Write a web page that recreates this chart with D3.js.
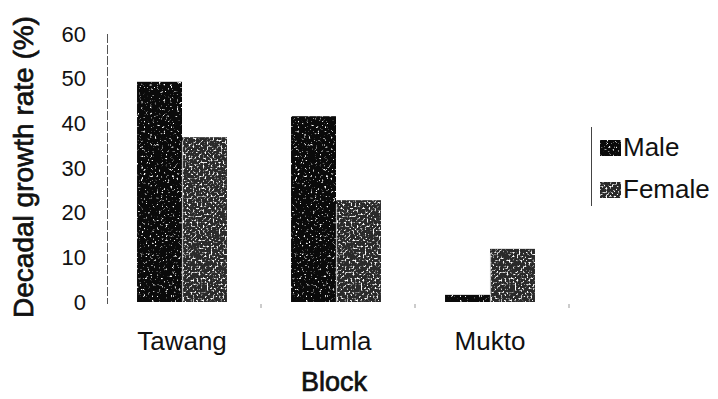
<!DOCTYPE html>
<html>
<head>
<meta charset="utf-8">
<script src="https://cdn.jsdelivr.net/npm/d3@7"></script>
<style>
  html, body { margin: 0; padding: 0; background: #fff; }
  svg { display: block; font-family: "Liberation Sans", Arial, sans-serif; }
</style>
</head>
<body>
<svg id="chart" width="718" height="399"></svg>
<script>
// Decadal growth rate by block, male vs female
const blocks = ["Tawang", "Lumla", "Mukto"];
const seriesNames = ["Male", "Female"];
const maleValues = [49.3, 41.6, 1.6];
const femaleValues = [36.9, 22.8, 11.9];
const yTicks = [0, 10, 20, 30, 40, 50, 60];

const svg = d3.select("#chart");

// speckled textures for the bar fills
const defs = svg.append("defs");
function speckle(id, freq, slope, offset, seed) {
  const f = defs.append("filter").attr("id", id)
    .attr("x", 0).attr("y", 0).attr("width", 1).attr("height", 1)
    .attr("filterUnits", "objectBoundingBox");
  f.append("feTurbulence").attr("type", "fractalNoise")
    .attr("baseFrequency", freq).attr("numOctaves", 3).attr("seed", seed).attr("result", "n");
  f.append("feColorMatrix").attr("in", "n").attr("type", "matrix")
    .attr("values", `0 0 0 0 1  0 0 0 0 1  0 0 0 0 1  ${slope} 0 0 0 ${offset}`).attr("result", "s");
  f.append("feComposite").attr("in", "s").attr("in2", "SourceAlpha").attr("operator", "in");
}
speckle("speckMale", 0.45, 6, -3.75, 4);
speckle("speckFemale", 0.5, 5, -2.6, 9);

const x0 = d3.scaleBand().domain(blocks).range([105, 567])
  .paddingInner(0.416).paddingOuter(0.208);
const x1 = d3.scaleBand().domain(seriesNames).range([0, x0.bandwidth()]);
const y = d3.scaleLinear().domain([0, 60]).range([302, 34]);

const baseFill = { Male: "#0a0a0a", Female: "#2a2a2a" };
const speck = { Male: "url(#speckMale)", Female: "url(#speckFemale)" };

const rows = blocks.map((b, i) => ({ block: b, values: [
  { key: "Male", value: maleValues[i] },
  { key: "Female", value: femaleValues[i] }
]}));

const groups = svg.append("g").selectAll("g").data(rows).join("g")
  .attr("transform", d => `translate(${x0(d.block)},0)`);

groups.selectAll("rect.base").data(d => d.values).join("rect")
  .attr("class", "base")
  .attr("x", d => x1(d.key)).attr("width", x1.bandwidth())
  .attr("y", d => y(d.value)).attr("height", d => y(0) - y(d.value))
  .attr("fill", d => baseFill[d.key]);

groups.selectAll("rect.speck").data(d => d.values).join("rect")
  .attr("class", "speck")
  .attr("x", d => x1(d.key)).attr("width", x1.bandwidth())
  .attr("y", d => y(d.value)).attr("height", d => y(0) - y(d.value))
  .attr("fill", "#fff")
  .attr("filter", d => speck[d.key]);

// pale seam on the left edge of the female bars
groups.selectAll("line.seam").data(d => d.values.filter(v => v.key === "Female")).join("line")
  .attr("class", "seam")
  .attr("x1", d => x1(d.key) + 0.5).attr("x2", d => x1(d.key) + 0.5)
  .attr("y1", d => y(d.value) + 4).attr("y2", y(0))
  .attr("stroke", "#d8d8d8").attr("stroke-width", 1.2).attr("opacity", 0.8);

// y axis
const yAxis = d3.axisLeft(y).tickValues(yTicks).tickSize(0).tickPadding(21);
const yg = svg.append("g").attr("transform", "translate(107,0)").call(yAxis);
yg.select(".domain").attr("stroke", "#555").attr("stroke-dasharray", "9 2").attr("d", `M0.5,${y(60)}V${y(0) + 2}`);
yg.selectAll("text").attr("font-size", 22).attr("fill", "#111")
  .attr("font-family", "Liberation Sans, Arial, sans-serif");

// x axis: only faint tick marks at band boundaries
const xBounds = blocks.map(b => x0(b) + x0.bandwidth() + x0.step() * 0.208 + 2);
svg.append("g").selectAll("line").data(xBounds).join("line")
  .attr("x1", d => d).attr("x2", d => d)
  .attr("y1", y(0) + 2).attr("y2", y(0) + 6)
  .attr("stroke", "#999").attr("stroke-width", 1);

const xAxis = d3.axisBottom(x0).tickSize(0).tickPadding(0);
const xg = svg.append("g").attr("transform", `translate(0,${y(0)})`).call(xAxis);
xg.select(".domain").remove();
xg.selectAll("text").attr("font-size", 26).attr("fill", "#111")
  .attr("font-family", "Liberation Sans, Arial, sans-serif")
  .attr("dy", null).attr("y", 48);

// axis titles (regular face with a thin outline for a medium weight)
svg.append("text").attr("x", 334).attr("y", 391).attr("text-anchor", "middle")
  .attr("font-size", 27).attr("fill", "#111")
  .attr("stroke", "#111").attr("stroke-width", 0.7).text("Block");
svg.append("text").attr("transform", "translate(33,167) rotate(-90)")
  .attr("text-anchor", "middle").attr("font-size", 28)
  .attr("fill", "#111").attr("stroke", "#111").attr("stroke-width", 0.7)
  .text("Decadal growth rate (%)");

// legend
const legend = svg.append("g");
legend.append("line").attr("x1", 591.5).attr("x2", 591.5).attr("y1", 127).attr("y2", 206)
  .attr("stroke", "#444").attr("stroke-width", 1);
const legItems = legend.selectAll("g").data(seriesNames).join("g")
  .attr("transform", (d, i) => `translate(600,${140 + i * 42})`);
legItems.append("rect").attr("width", 21).attr("height", 16)
  .attr("fill", d => baseFill[d]);
legItems.append("rect").attr("width", 21).attr("height", 16)
  .attr("fill", "#fff").attr("filter", d => speck[d]);
legItems.append("text").attr("x", 23).attr("y", 16)
  .attr("font-size", 26).attr("fill", "#111").text(d => d);
</script>
</body>
</html>
